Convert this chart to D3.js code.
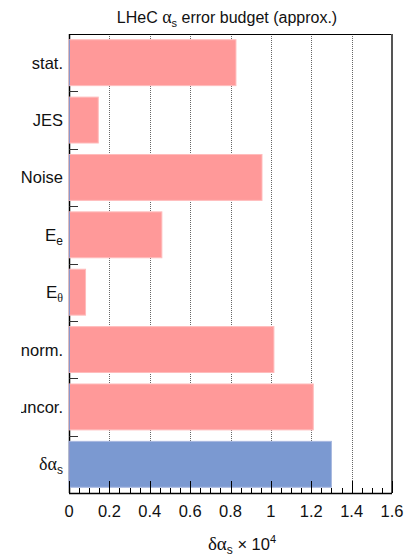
<!DOCTYPE html>
<html><head><meta charset="utf-8">
<script src="https://cdn.jsdelivr.net/npm/d3@7"></script>
<style>body{margin:0;background:#fff}svg{display:block}text{font-family:"Liberation Sans",Arial,sans-serif}</style>
</head><body>
<script>
const categories = ["stat.","JES","Noise","E_e","E_θ","norm.","uncor.","δα_s"];
const values = [0.827, 0.145, 0.956, 0.46, 0.082, 1.015, 1.21, 1.30];
const colors = ["#ff9999","#ff9999","#ff9999","#ff9999","#ff9999","#ff9999","#ff9999","#7b99d1"];
const xTicks = [0,0.2,0.4,0.6,0.8,1,1.2,1.4,1.6];
const xTickLabels = ["0","0.2","0.4","0.6","0.8","1","1.2","1.4","1.6"];

const W=407,H=559, L=69, R=392, T=34, B=493;
const svg=d3.select("body").append("svg").attr("width",W).attr("height",H);
const x=d3.scaleLinear().domain([0,1.6]).range([L,R]);
const y=d3.scaleBand().domain(categories).range([T,B]).paddingInner(0.2).paddingOuter(0.1);
const step=y.step();

// grid
svg.append("g").selectAll("line").data(xTicks.slice(1,-1)).join("line")
  .attr("x1",d=>Math.round(x(d))+0.5).attr("x2",d=>Math.round(x(d))+0.5)
  .attr("y1",T).attr("y2",B).attr("stroke","#666").attr("stroke-width",1).attr("stroke-dasharray","1,1");

// frame
svg.append("line").attr("x1",L).attr("x2",R).attr("y1",T+0.5).attr("y2",T+0.5).attr("stroke","#000");
svg.append("line").attr("x1",R).attr("x2",R).attr("y1",T).attr("y2",B).attr("stroke","#555").attr("stroke-width",2);
svg.append("line").attr("x1",L+0.5).attr("x2",L+0.5).attr("y1",T).attr("y2",B).attr("stroke","#000").attr("stroke-width",1.5);

// left ticks at row boundaries
svg.append("g").selectAll("line").data(d3.range(1,categories.length)).join("line")
  .attr("x1",L).attr("x2",L+9).attr("y1",i=>Math.round(T+i*step)+0.5).attr("y2",i=>Math.round(T+i*step)+0.5)
  .attr("stroke","#333").attr("stroke-width",1);

// bars
svg.append("g").selectAll("rect").data(categories).join("rect")
  .attr("x",x(0)).attr("y",d=>y(d)).attr("width",(d,i)=>x(values[i])-x(0)).attr("height",y.bandwidth())
  .attr("fill",(d,i)=>colors[i]).attr("stroke",(d,i)=>i<7?"#ffbcbc":"#a8b8e0").attr("stroke-width",1);
svg.append("g").selectAll("line").data(categories).join("line")
  .attr("x1",L+0.5).attr("x2",L+0.5).attr("y1",d=>y(d)).attr("y2",d=>y(d)+y.bandwidth())
  .attr("stroke","#8a96cc").attr("stroke-width",1);

// bottom axis
const xAxis=svg.append("g").attr("transform",`translate(0,${B})`);
xAxis.append("line").attr("x1",L).attr("x2",R).attr("y1",0.5).attr("y2",0.5).attr("stroke","#000").attr("stroke-width",1.5);
const minor=d3.range(0,1.6001,0.05);
xAxis.selectAll("line.mn").data(minor).join("line").attr("class","mn")
  .attr("x1",d=>Math.round(x(d))+0.5).attr("x2",d=>Math.round(x(d))+0.5)
  .attr("y1",0).attr("y2",d=>(Math.abs(d/0.2-Math.round(d/0.2))<1e-6)?-12:-5)
  .attr("stroke","#000").attr("stroke-width",1);
xAxis.selectAll("text").data(xTicks).join("text")
  .attr("x",d=>x(d)).attr("y",24).attr("text-anchor","middle").attr("font-size",16.5).attr("fill","#111")
  .text((d,i)=>xTickLabels[i]);

// category labels
svg.append("defs").append("clipPath").attr("id","lc").append("rect").attr("x",21).attr("y",0).attr("width",60).attr("height",H);
const lab=svg.append("g").attr("clip-path","url(#lc)");
categories.forEach(c=>{
  const cy=y(c)+y.bandwidth()/2+6;
  const t=lab.append("text").attr("x",63).attr("y",cy).attr("text-anchor","end").attr("font-size",16.5).attr("fill","#111");
  if(c.includes("_")){
    const [m,s]=c.split("_");
    if(m==="δα"){
      t.append("tspan").attr("font-family","Liberation Serif").attr("font-size",18).text("δα");
    } else t.append("tspan").attr("font-size",17).text(m);
    t.append("tspan").attr("font-size",s==="θ"?12:12).attr("dy",4).attr("font-family",s==="θ"?"Liberation Serif":null).text(s);
  } else t.text(c);
});

// title
const tt=svg.append("text").attr("x",227).attr("y",23).attr("text-anchor","middle").attr("font-size",16).attr("fill","#111");
tt.append("tspan").text("LHeC ");
tt.append("tspan").attr("font-family","Liberation Serif").attr("font-size",18).text("α");
tt.append("tspan").attr("font-size",11).attr("dy",4).text("s");
tt.append("tspan").attr("dy",-4).text(" error budget (approx.)");

// axis title
const at=svg.append("text").attr("x",242).attr("y",550).attr("text-anchor","middle").attr("font-size",16.5).attr("fill","#111");
at.append("tspan").attr("font-family","Liberation Serif").attr("font-size",19).text("δα");
at.append("tspan").attr("font-size",12).attr("dy",4).text("s");
at.append("tspan").attr("dy",-4).text(" × 10");
at.append("tspan").attr("font-size",11).attr("dy",-7).text("4");
</script>
</body></html>
